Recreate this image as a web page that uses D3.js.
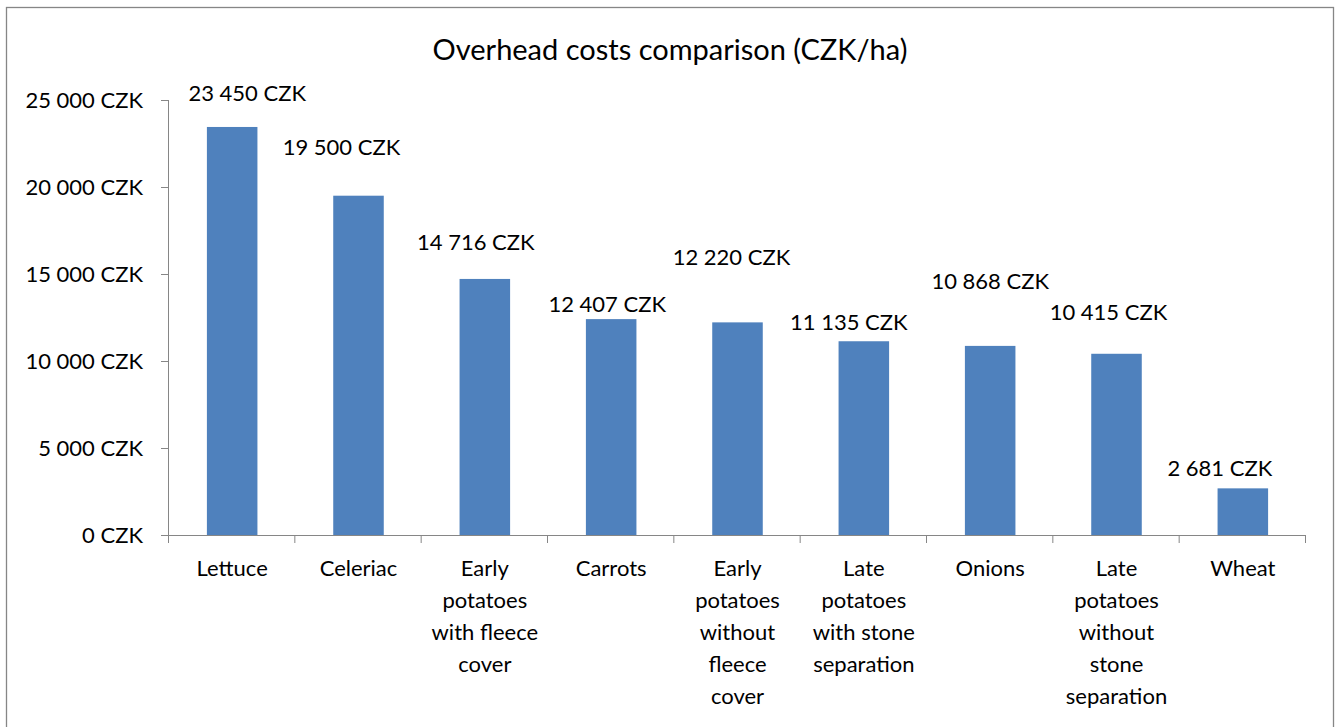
<!DOCTYPE html>
<html>
<head>
<meta charset="utf-8">
<script src="https://cdn.jsdelivr.net/npm/d3@7"></script>
<style>
  body { margin: 0; background: #fff; }
  text { font-family: Lato, "Open Sans", sans-serif; fill: #000; }
</style>
</head>
<body>
<div id="chart"></div>
<script>
// chart data
var categories = ["Lettuce", "Celeriac", "Early potatoes with fleece cover", "Carrots",
    "Early potatoes without fleece cover", "Late potatoes with stone separation", "Onions",
    "Late potatoes without stone separation", "Wheat"];
var categoryLines = [["Lettuce"], ["Celeriac"], ["Early", "potatoes", "with fleece", "cover"], ["Carrots"],
    ["Early", "potatoes", "without", "fleece", "cover"], ["Late", "potatoes", "with stone", "separation"], ["Onions"],
    ["Late", "potatoes", "without", "stone", "separation"], ["Wheat"]];
var costs = [23450, 19500, 14716, 12407, 12220, 11135, 10868, 10415, 2681];
var yTicks = [0, 5000, 10000, 15000, 20000, 25000];

// the value labels were nudged by hand in the original, so they are here too
var labelNudge = [[15, -34], [-17, -49], [-9, -37], [-4, -15], [-6, -65], [-15, -19], [0, -65], [-8, -42], [-23, -20]];

const W = 1339, H = 727;
const margin = { top: 100, right: 33, bottom: 192, left: 169 };
const width = W - margin.left - margin.right;
const height = H - margin.top - margin.bottom;

const axisColor = "#868686";
const barColor = "#4F81BD";

// Excel uses a space as thousands separator
var fmt = function (v) { return d3.format(",")(v).replace(/,/g, " ") + " CZK"; };

var root = d3.select("#chart").append("svg")
    .attr("width", W)
    .attr("height", H);

// outer chart border
root.append("rect")
    .attr("x", 6.5)
    .attr("y", 7.5)
    .attr("width", 1327)
    .attr("height", 740)
    .attr("fill", "#fff")
    .attr("stroke", axisColor)
    .attr("stroke-width", 1.3);

// title
root.append("text")
    .attr("x", 670)
    .attr("y", 60)
    .attr("text-anchor", "middle")
    .style("font-size", "29px")
    .text("Overhead costs comparison (CZK/ha)");

var svg = root.append("g")
    .attr("transform", "translate(" + margin.left + "," + margin.top + ")");

const x = d3.scaleBand()
    .range([0, width])
    .domain(categories)
    .padding(0);

const y = d3.scaleLinear()
    .range([height, 0])
    .domain([0, 25000]);

// bars
svg.selectAll(".bar")
    .data(costs)
    .enter().append("rect")
    .attr("class", "bar")
    .attr("x", function (d, i) { return x(categories[i]) + x.bandwidth() * 0.3; })
    .attr("y", function (d) { return y(d); })
    .attr("width", x.bandwidth() * 0.4)
    .attr("height", function (d) { return height - y(d); })
    .style("fill", barColor);

// y axis
const yAxis = d3.axisLeft(y)
    .tickValues(yTicks)
    .tickSize(8)
    .tickPadding(18)
    .tickFormat(fmt);

var gy = svg.append("g").call(yAxis);
gy.select(".domain").attr("stroke", axisColor).attr("d", "M-0.5," + height + "V0");
gy.selectAll(".tick line").attr("stroke", axisColor);
gy.selectAll(".tick text").style("font-size", "22px").attr("dy", "0.36em");

// x axis: ticks sit on the category boundaries
var gx = svg.append("g").attr("transform", "translate(0," + height + ")");
gx.append("line")
    .attr("x1", -8).attr("x2", width)
    .attr("y1", 0.5).attr("y2", 0.5)
    .attr("stroke", axisColor);
gx.selectAll(".xtick")
    .data(categories.concat(["end"]))
    .enter().append("line")
    .attr("class", "xtick")
    .attr("x1", function (d, i) { return (i < categories.length ? x(d) : width) - 0.5; })
    .attr("x2", function (d, i) { return (i < categories.length ? x(d) : width) - 0.5; })
    .attr("y1", 0).attr("y2", 8)
    .attr("stroke", axisColor);

gx.selectAll(".xlabel")
    .data(categories)
    .enter().append("text")
    .attr("class", "xlabel")
    .attr("text-anchor", "middle")
    .style("font-size", "22px")
    .each(function (d, i) {
        var t = d3.select(this);
        categoryLines[i].forEach(function (line, k) {
            t.append("tspan")
                .attr("x", x(d) + x.bandwidth() / 2)
                .attr("y", 41 + k * 32)
                .text(line);
        });
    });

// value labels
svg.selectAll(".value")
    .data(costs)
    .enter().append("text")
    .attr("class", "value")
    .attr("text-anchor", "middle")
    .attr("dy", "0.36em")
    .style("font-size", "22px")
    .attr("x", function (d, i) { return x(categories[i]) + x.bandwidth() / 2 + labelNudge[i][0]; })
    .attr("y", function (d, i) { return y(d) + labelNudge[i][1]; })
    .text(fmt);
</script>
</body>
</html>
